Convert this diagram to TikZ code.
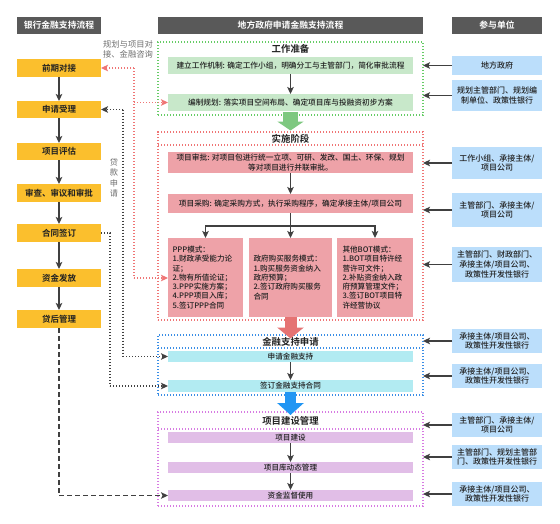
\documentclass[tikz,border=0pt]{standalone}
\usepackage{fontspec}
\setmainfont{Noto Sans CJK SC}[BoldFont={Noto Sans CJK SC Bold}]
\newfontfamily\medf{Noto Sans CJK SC Medium}
\usetikzlibrary{arrows.meta}
\definecolor{hdr}{HTML}{595959}
\definecolor{yel}{HTML}{FBBF2D}
\definecolor{grn}{HTML}{C8E8CA}
\definecolor{grnd}{HTML}{66CC66}
\definecolor{grna}{HTML}{7EC880}
\definecolor{pnk}{HTML}{EEA2A8}
\definecolor{redd}{HTML}{EF7575}
\definecolor{reda}{HTML}{E57373}
\definecolor{cyn}{HTML}{B2EBF2}
\definecolor{blud}{HTML}{3A8EE6}
\definecolor{blua}{HTML}{2196F3}
\definecolor{vio}{HTML}{E1BEE7}
\definecolor{magd}{HTML}{D77BE2}
\definecolor{rbl}{HTML}{BBDEFB}
\definecolor{dk}{HTML}{404040}
\definecolor{lbl}{HTML}{707070}
\definecolor{txt}{HTML}{222222}
\newcommand{\BX}[7]{\node[#6, minimum width={(#4-#2)*1pt}, minimum height={(#5-#3)*1pt}] (#1) at ({(#2+#4)/2},{(#3+#5)/2}) {#7};}
\begin{document}
\begin{tikzpicture}[x=1pt,y=-1pt,
  every node/.style={inner sep=0pt, outer sep=0pt, text=txt},
  hdrbox/.style={fill=hdr, text=white, font=\bfseries\fontsize{8.8}{10}\selectfont},
  lbox/.style={fill=yel, font=\bfseries\fontsize{8.5}{10}\selectfont},
  gbox/.style={fill=grn, font=\medf\fontsize{7.7}{9}\selectfont},
  pbox/.style={fill=pnk, font=\medf\fontsize{7.7}{9.4}\selectfont, align=center},
  mbox/.style={fill=pnk, font=\medf\fontsize{7.6}{9.3}\selectfont, align=left},
  cbox/.style={fill=cyn, font=\medf\fontsize{7.6}{9}\selectfont},
  vbox/.style={fill=vio, font=\medf\fontsize{7.6}{9}\selectfont},
  rbox/.style={fill=rbl, font=\medf\fontsize{8}{9.8}\selectfont, align=center},
  cont/.style={draw, line width=1.2pt, dash pattern=on 1.2pt off 1.8pt},
  ttl/.style={font=\bfseries\fontsize{9.4}{10}\selectfont},
  arr/.style={draw=dk, line width=1.2pt, -{Stealth[length=7pt,width=6.5pt,inset=1.5pt]}},
  rdot/.style={draw=redd, line width=1.2pt, dash pattern=on 1.2pt off 1.8pt},
  rtip/.style={-{Stealth[length=7pt,width=6.5pt,inset=1.5pt,fill=redd]}},
  gdot/.style={draw=dk, line width=1.2pt, dash pattern=on 1.2pt off 1.8pt},
  gtip/.style={-{Stealth[length=7pt,width=6.5pt,inset=1.5pt,fill=dk]}}]
\useasboundingbox (0,0) rectangle (560,523);
\fill[white] (0,0) rectangle (560,523);

% headers
\BX{h1}{17}{17}{101}{34}{hdrbox}{银行金融支持流程}
\BX{h2}{158}{17}{423}{34}{hdrbox}{地方政府申请金融支持流程}
\BX{h3}{452}{17}{542}{34}{hdrbox}{参与单位}

% containers
\BX{wp}{158}{42}{423}{115}{cont, draw=grnd}{}
\BX{impl}{158}{132}{423}{320}{cont, draw=redd}{}
\BX{fin}{158}{335}{423}{395}{cont, draw=blud}{}
\BX{cons}{158}{412}{423}{506}{cont, draw=magd}{}
\draw[cont, draw=redd] (impl.west |- 0,145) -- (impl.east |- 0,145);
\draw[cont, draw=blud] (fin.west |- 0,348) -- (fin.east |- 0,348);
\draw[cont, draw=magd] (cons.west |- 0,429) -- (cons.east |- 0,429);

\node[ttl] (t1) at (290.5,49) {工作准备};
\node[ttl] (t2) at (290.5,138.5) {实施阶段};
\node[ttl] (t3) at (290.5,341.5) {金融支持申请};
\node[ttl] (t4) at (290.5,420.5) {项目建设管理};

% big arrows
\draw[line width=15pt, draw=grna, -{Triangle[length=9pt,width=26pt]}] (290.5,112) -- (290.5,130.5);
\draw[line width=12pt, draw=reda, -{Triangle[length=11pt,width=26pt]}] (290.5,317) -- (290.5,338.5);
\draw[line width=11pt, draw=blua, -{Triangle[length=12pt,width=26pt]}] (290.5,392) -- (290.5,415);

% left column
\BX{L1}{17}{59}{101}{77}{lbox}{前期对接}
\BX{L2}{17}{101}{101}{118}{lbox}{申请受理}
\BX{L3}{17}{143}{101}{160}{lbox}{项目评估}
\BX{L4}{17}{184}{101}{202}{lbox}{审查、审议和审批}
\BX{L5}{17}{224}{101}{242}{lbox}{合同签订}
\BX{L6}{17}{269}{101}{287}{lbox}{资金发放}
\BX{L7}{17}{310}{101}{328}{lbox}{贷后管理}
\draw[arr] (L1) -- (L2);
\draw[arr] (L2) -- (L3);
\draw[arr] (L3) -- (L4);
\draw[arr] (L4) -- (L5);
\draw[arr] (L5) -- (L6);
\draw[arr] (L6) -- (L7);

% middle boxes
\BX{g1}{168}{57}{413}{74}{gbox}{建立工作机制: 确定工作小组，明确分工与主管部门，简化审批流程}
\BX{g2}{168}{94}{413}{111}{gbox}{编制规划: 落实项目空间布局、确定项目库与投融资初步方案}
\draw[arr] (g1) -- (g2);

\BX{p1}{168}{152}{413}{173}{pbox}{项目审批: 对项目包进行统一立项、可研、发改、国土、环保、规划\\等对项目进行并联审批。}
\BX{p2}{168}{194}{413}{213}{pbox}{项目采购: 确定采购方式，执行采购程序，确定承接主体/项目公司}
\draw[arr] (p1) -- (p2);

\BX{ppp}{168}{238}{243}{317}{mbox, text width=66pt}{PPP模式：\\1.财政承受能力论\\证；\\2.物有所值论证；\\3.PPP实施方案；\\4.PPP项目入库；\\5.签订PPP合同}
\BX{gov}{249}{238}{332}{317}{mbox, text width=74pt}{政府购买服务模式：\\1.购买服务资金纳入\\政府预算；\\2.签订政府购买服务\\合同}
\BX{bot}{337}{238}{413}{317}{mbox, text width=65pt}{其他BOT模式：\\1.BOT项目特许经\\营许可文件；\\2.补贴资金纳入政\\府预算管理文件；\\3.签订BOT项目特\\许经营协议}
\coordinate (sp) at (290.5,226);
\draw[draw=dk, line width=1.2pt] (p2.south) -- (sp);
\draw[arr] (sp) -- (gov.north);
\draw[arr] (sp) -| (ppp.north);
\draw[arr] (sp) -| (bot.north);

\BX{c1}{168}{351}{413}{362}{cbox}{申请金融支持}
\BX{c2}{168}{380}{413}{392}{cbox}{签订金融支持合同}
\draw[arr] (c1) -- (c2);

\BX{v1}{168}{432}{413}{443}{vbox}{项目建设}
\BX{v2}{168}{462}{413}{473}{vbox}{项目库动态管理}
\BX{v3}{168}{490}{413}{501}{vbox}{资金监督使用}
\draw[arr] (v1) -- (v2);
\draw[arr] (v2) -- (v3);

% right column
\BX{R1}{452}{56}{542}{75}{rbox}{地方政府}
\BX{R2}{452}{80}{542}{111}{rbox}{规划主管部门、规划编\\制单位、政策性银行}
\BX{R3}{452}{147}{542}{179}{rbox}{工作小组、承接主体/\\项目公司}
\BX{R4}{452}{193}{542}{227}{rbox}{主管部门、承接主体/\\项目公司}
\BX{R5}{452}{247}{542}{282}{rbox}{主管部门、财政部门、\\承接主体/项目公司、\\政策性开发性银行}
\BX{R6}{452}{329}{542}{353}{rbox}{承接主体/项目公司、\\政策性开发性银行}
\BX{R7}{452}{364}{542}{388}{rbox}{承接主体/项目公司、\\政策性开发性银行}
\BX{R8}{452}{413}{542}{437}{rbox}{主管部门、承接主体/\\项目公司}
\BX{R9}{452}{445}{542}{469}{rbox}{主管部门、规划主管部\\门、政策性开发性银行}
\BX{R10}{452}{482}{542}{506}{rbox}{承接主体/项目公司、\\政策性开发性银行}
\foreach \r in {R1,R2,R3,R4,R5,R6,R7,R8,R9,R10}{
  \draw[arr] (\r.west) -- (\r.west -| wp.east);
}

% red dotted links
\coordinate (ra) at (134,68);
\coordinate (rb) at (134,102.5);
\coordinate (rc) at (134,278);
\draw[rdot] (ra) -- (rc);
\draw[rdot, rtip] (ra) -- (L1.east);
\draw[rdot, rtip] (rb) -- (g2.west);
\draw[rdot, rtip] (rc) -- (ppp.west |- rc);
\node[text=lbl, font=\fontsize{8.3}{9.8}\selectfont, align=left] (lab1) at (128,49) {规划与项目对\\接、金融咨询};

% gray dotted loan links
\coordinate (ga) at (123,109.5);
\coordinate (gb) at (123,356.5);
\draw[gdot, gtip] (ga) -- (L2.east);
\draw[gdot] (ga) -- (gb);
\draw[gdot, gtip] (gb) -- (c1.west);
\node[text=lbl, font=\fontsize{8.2}{10.4}\selectfont, align=center] (lab2) at (114,178) {贷\\款\\申\\请};
\coordinate (gc) at (110,233);
\coordinate (gd) at (110,386);
\draw[gdot] (L5.east) -- (gc) -- (gd);
\draw[gdot, gtip] (gd) -- (c2.west);

% dashed link
\coordinate (da) at (59,495.5);
\draw[draw=dk, line width=1.2pt, dash pattern=on 5pt off 3pt] (L7.south) -- (da);
\draw[draw=dk, line width=1.2pt, dash pattern=on 5pt off 3pt, gtip] (da) -- (v3.west);
\end{tikzpicture}
\end{document}
